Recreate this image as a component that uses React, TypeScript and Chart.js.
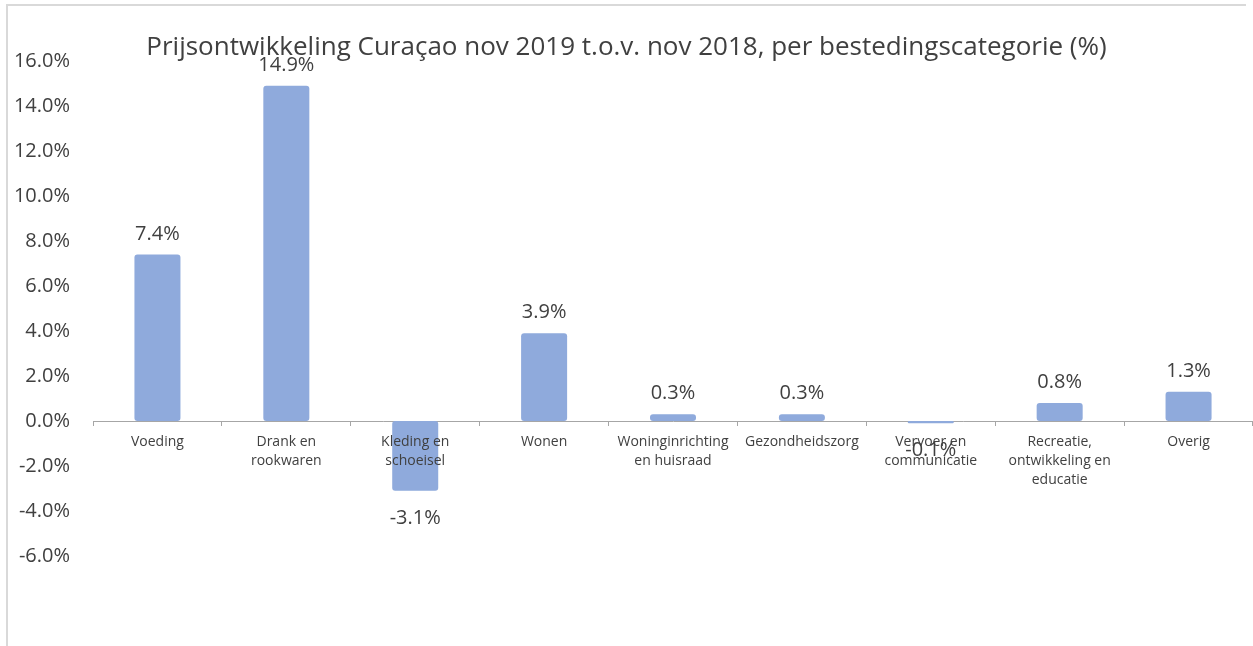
import React, { useEffect, useRef } from "react";
import { Chart, registerables } from "chart.js";

Chart.register(...registerables);

const TITLE = "Prijsontwikkeling Curaçao nov 2019 t.o.v. nov 2018, per bestedingscategorie (%)";

const categories: (string | string[])[] = [
  "Voeding",
  ["Drank en", "rookwaren"],
  ["Kleding en", "schoeisel"],
  "Wonen",
  ["Woninginrichting", "en huisraad"],
  "Gezondheidszorg",
  ["Vervoer en", "communicatie"],
  ["Recreatie,", "ontwikkeling en", "educatie"],
  "Overig",
];

const values: number[] = [7.4, 14.9, -3.1, 3.9, 0.3, 0.3, -0.1, 0.8, 1.3];

const yMin = -6;
const yMax = 16;
const yStep = 2;

const FONT = '"Open Sans", "Liberation Sans", sans-serif';
const TEXT = "#404040";

const framePlugin = {
  id: "frame",
  beforeDraw(chart: any) {
    const ctx = chart.ctx;
    ctx.save();
    ctx.fillStyle = "#ffffff";
    ctx.fillRect(0, 0, chart.width, chart.height);
    ctx.fillStyle = "#D9D9D9";
    ctx.fillRect(6, 4, 1240, 2);
    ctx.fillRect(6, 4, 2, chart.height - 4);
    ctx.restore();
  },
};

const labelPlugin = {
  id: "valueLabels",
  afterDatasetsDraw(chart: any) {
    const ctx = chart.ctx;
    const meta = chart.getDatasetMeta(0);
    ctx.save();
    ctx.font = `20px ${FONT}`;
    ctx.fillStyle = TEXT;
    ctx.textAlign = "center";
    ctx.textBaseline = "alphabetic";
    meta.data.forEach((bar: any, i: number) => {
      const v = values[i];
      const txt = v.toFixed(1) + "%";
      if (v >= 0) {
        ctx.fillText(txt, bar.x, bar.y - 15);
      } else {
        ctx.fillText(txt, bar.x, bar.y + 33);
      }
    });
    ctx.restore();
  },
};

export default function App() {
  const ref = useRef<HTMLCanvasElement | null>(null);

  useEffect(() => {
    if (!ref.current) return;
    const chart = new Chart(ref.current, {
      type: "bar",
      data: {
        labels: categories as any,
        datasets: [
          {
            data: values,
            backgroundColor: "#8FAADC",
            borderRadius: 3,
            borderSkipped: false,
            categoryPercentage: 1,
            barPercentage: 0.357,
          },
        ],
      },
      options: {
        animation: false,
        responsive: false,
        devicePixelRatio: 1,
        layout: { padding: { left: 0, right: 0, top: 0, bottom: 90 } },
        plugins: {
          legend: { display: false },
          tooltip: { enabled: false },
          title: {
            display: true,
            text: TITLE,
            color: TEXT,
            font: { family: FONT, size: 26, weight: "normal", lineHeight: 1.0 },
            padding: { top: 35, bottom: 0 },
            fullSize: true,
          },
        },
        scales: {
          x: {
            position: { y: 0 } as any,
            offset: true,
            grid: {
              display: true,
              drawOnChartArea: false,
              drawTicks: true,
              tickLength: 4,
              color: "#A6A6A6",
              offset: true,
            },
            border: { display: true, color: "#A6A6A6", width: 1 },
            ticks: {
              z: 1,
              autoSkip: false,
              maxRotation: 0,
              minRotation: 0,
              padding: 8,
              color: TEXT,
              font: { family: FONT, size: 14, lineHeight: "19px" as any },
            },
          },
          y: {
            min: yMin,
            max: yMax,
            grid: { display: false, drawTicks: false },
            border: { display: false },
            ticks: {
              stepSize: yStep,
              padding: 23,
              color: TEXT,
              font: { family: FONT, size: 20 },
              callback: (v: any) => Number(v).toFixed(1) + "%",
            },
            afterFit(scale: any) {
              scale.width = 93;
            },
          },
        },
      },
      plugins: [framePlugin, labelPlugin],
    });
    return () => chart.destroy();
  }, []);

  return (
    <div style={{ position: "absolute", left: 0, top: 0, width: 1253, height: 646, overflow: "hidden" }}>
      <canvas ref={ref} width={1253} height={646} style={{ display: "block" }} />
    </div>
  );
}
